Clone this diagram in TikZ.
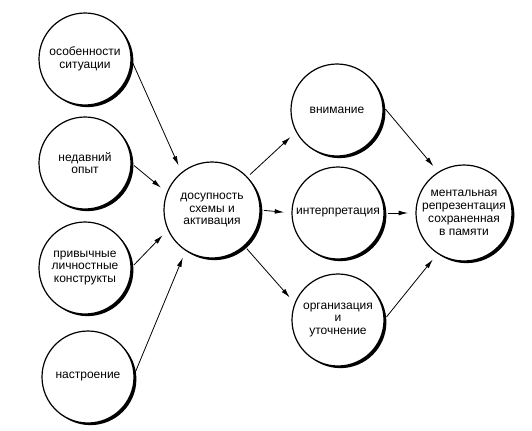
\documentclass[tikz,border=0pt]{standalone}
\usepackage{fontspec}
\setmainfont{Liberation Sans}
\usetikzlibrary{arrows.meta, shadows}

\tikzset{
  bubble/.style={draw, circle, line width=0.9pt, fill=white, minimum size=69pt, inner sep=0pt, outer sep=0pt,
    align=center, font=\fontsize{9}{9.6}\selectfont,
    drop shadow={shadow xshift=1.8pt, shadow yshift=-1.6pt, fill=black, opacity=1}},
  bigbubble/.style={bubble, minimum size=72pt},
  flow/.style={-{Latex[length=7pt, width=3.6pt]}, line width=0.6pt, shorten <=3pt, shorten >=6pt}
}

\begin{document}
\begin{tikzpicture}[x=0.75pt, y=0.75pt]
  \useasboundingbox (0,0) rectangle (532,-430);
  % left column
  \node[bubble] (sit) at (85,-59) {особенности\\ситуации};
  \node[bubble] (rec) at (85,-163) {недавний\\опыт};
  \node[bubble] (hab) at (85,-268) {привычные\\личностные\\конструкты};
  \node[bubble] (mood) at (88,-377) {настроение};
  % middle
  \node[bigbubble] (acc) at (212,-210) {досупность\\схемы и\\активация};
  \node[bubble] (att) at (337,-110) {внимание};
  \node[bubble] (int) at (338,-213) {интерпретация};
  \node[bubble] (org) at (338,-320) {организация\\и\\уточнение};
  % right
  \node[bigbubble] (ment) at (464,-213) {ментальная\\репрезентация\\сохраненная\\в памяти};

  \draw[flow] (sit.0) -- (acc.129);
  \draw[flow] (rec.0) -- (acc.159);
  \draw[flow] (hab.0) -- (acc.204);
  \draw[flow] (mood.2) -- (acc.237);
  \draw[flow] (acc.43) -- (att.208);
  \draw[flow] (acc.0) -- (int.180);
  \draw[flow] (acc.-48) -- (org.159);
  \draw[flow] (att.5) -- (ment.122);
  \draw[flow] (int.0) -- (ment.180);
  \draw[flow] (org.0) -- (ment.237);
\end{tikzpicture}
\end{document}
